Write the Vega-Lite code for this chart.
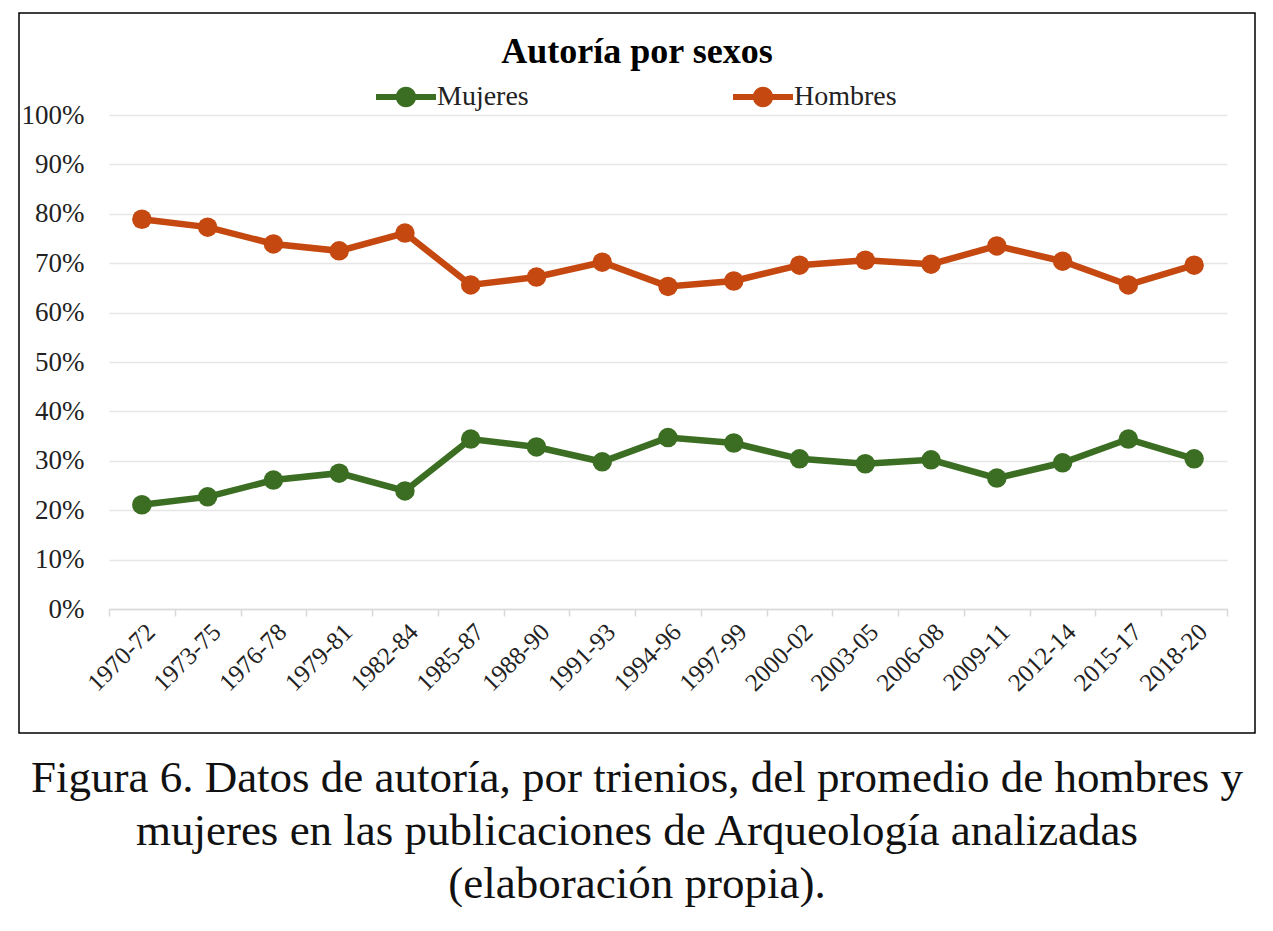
{
  "$schema": "https://vega.github.io/schema/vega-lite/v6.json",
  "background": "white",
  "padding": {"left": 18, "top": 12, "right": 0, "bottom": 0},
  "config": {
    "font": "Liberation Serif",
    "view": {"stroke": "#000000", "strokeWidth": 1.5}
  },
  "title": {
    "text": [
      "Figura 6. Datos de autoría, por trienios, del promedio de hombres y",
      "mujeres en las publicaciones de Arqueología analizadas",
      "(elaboración propia)."
    ],
    "orient": "bottom",
    "anchor": "middle",
    "fontSize": 45,
    "fontWeight": "normal",
    "lineHeight": 53,
    "offset": 22,
    "color": "#111111"
  },
  "data": {
    "values": [
      {"periodo": "1970-72", "sexo": "Mujeres", "pct": 21.1},
      {"periodo": "1973-75", "sexo": "Mujeres", "pct": 22.7},
      {"periodo": "1976-78", "sexo": "Mujeres", "pct": 26.1},
      {"periodo": "1979-81", "sexo": "Mujeres", "pct": 27.5},
      {"periodo": "1982-84", "sexo": "Mujeres", "pct": 23.9},
      {"periodo": "1985-87", "sexo": "Mujeres", "pct": 34.4},
      {"periodo": "1988-90", "sexo": "Mujeres", "pct": 32.8},
      {"periodo": "1991-93", "sexo": "Mujeres", "pct": 29.8},
      {"periodo": "1994-96", "sexo": "Mujeres", "pct": 34.7},
      {"periodo": "1997-99", "sexo": "Mujeres", "pct": 33.6},
      {"periodo": "2000-02", "sexo": "Mujeres", "pct": 30.4},
      {"periodo": "2003-05", "sexo": "Mujeres", "pct": 29.4},
      {"periodo": "2006-08", "sexo": "Mujeres", "pct": 30.2},
      {"periodo": "2009-11", "sexo": "Mujeres", "pct": 26.5},
      {"periodo": "2012-14", "sexo": "Mujeres", "pct": 29.6},
      {"periodo": "2015-17", "sexo": "Mujeres", "pct": 34.4},
      {"periodo": "2018-20", "sexo": "Mujeres", "pct": 30.4},
      {"periodo": "1970-72", "sexo": "Hombres", "pct": 78.9},
      {"periodo": "1973-75", "sexo": "Hombres", "pct": 77.3},
      {"periodo": "1976-78", "sexo": "Hombres", "pct": 73.9},
      {"periodo": "1979-81", "sexo": "Hombres", "pct": 72.5},
      {"periodo": "1982-84", "sexo": "Hombres", "pct": 76.1},
      {"periodo": "1985-87", "sexo": "Hombres", "pct": 65.6},
      {"periodo": "1988-90", "sexo": "Hombres", "pct": 67.2},
      {"periodo": "1991-93", "sexo": "Hombres", "pct": 70.2},
      {"periodo": "1994-96", "sexo": "Hombres", "pct": 65.3},
      {"periodo": "1997-99", "sexo": "Hombres", "pct": 66.4},
      {"periodo": "2000-02", "sexo": "Hombres", "pct": 69.6},
      {"periodo": "2003-05", "sexo": "Hombres", "pct": 70.6},
      {"periodo": "2006-08", "sexo": "Hombres", "pct": 69.8},
      {"periodo": "2009-11", "sexo": "Hombres", "pct": 73.5},
      {"periodo": "2012-14", "sexo": "Hombres", "pct": 70.4},
      {"periodo": "2015-17", "sexo": "Hombres", "pct": 65.6},
      {"periodo": "2018-20", "sexo": "Hombres", "pct": 69.6}
    ]
  },
  "vconcat": [
    {
      "width": 1236,
      "height": 720,
      "title": {
        "text": "Autoría por sexos",
        "fontSize": 36,
        "fontWeight": "bold",
        "offset": -58,
        "anchor": "middle",
        "color": "#000000"
      },
      "encoding": {
        "x": {
          "field": "periodo",
          "type": "nominal",
          "sort": null,
          "bandPosition": 0.5,
          "scale": {"type": "band", "range": [90, 1208], "paddingInner": 0, "paddingOuter": 0},
          "axis": {
            "title": null,
            "offset": -124,
            "labelAngle": -45,
            "labelFontSize": 25,
            "labelColor": "#222222",
            "labelPadding": 3,
            "domainColor": "#d9d9d9",
            "domainWidth": 1.5,
            "tickColor": "#d9d9d9",
            "tickWidth": 1.5,
            "tickSize": 7,
            "tickBand": "extent",
            "grid": false
          }
        },
        "y": {
          "field": "pct",
          "type": "quantitative",
          "scale": {"domain": [0, 100], "range": [596, 102], "nice": false},
          "axis": {
            "title": null,
            "values": [0, 10, 20, 30, 40, 50, 60, 70, 80, 90, 100],
            "labelExpr": "datum.value + '%'",
            "offset": -90,
            "domain": false,
            "ticks": false,
            "labelPadding": 25,
            "labelFontSize": 27,
            "labelColor": "#222222",
            "gridColor": "#e6e6e6",
            "gridWidth": 1.5
          }
        },
        "color": {
          "field": "sexo",
          "type": "nominal",
          "scale": {"domain": ["Mujeres", "Hombres"], "range": ["#3b6e22", "#c4480f"]},
          "legend": {
            "title": null,
            "orient": "none",
            "legendX": 357,
            "legendY": 54,
            "direction": "horizontal",
            "columnPadding": 204,
            "symbolType": "M-1,-0.1L1,-0.1L1,0.1L-1,0.1Z M0.34,0A0.34,0.34 0 1,1 -0.34,0A0.34,0.34 0 1,1 0.34,0Z",
            "symbolSize": 3600,
            "symbolStrokeWidth": 0,
            "symbolOpacity": 1,
            "labelFontSize": 28,
            "labelOffset": 1,
            "labelColor": "#222222",
            "encode": {
              "symbols": {"update": {"fill": {"scale": "color", "field": "value"}, "opacity": {"value": 1}}}
            }
          }
        }
      },
      "layer": [
        {"mark": {"type": "line", "strokeWidth": 6.5}},
        {"mark": {"type": "point", "filled": true, "size": 380, "opacity": 1}}
      ]
    }
  ]
}
